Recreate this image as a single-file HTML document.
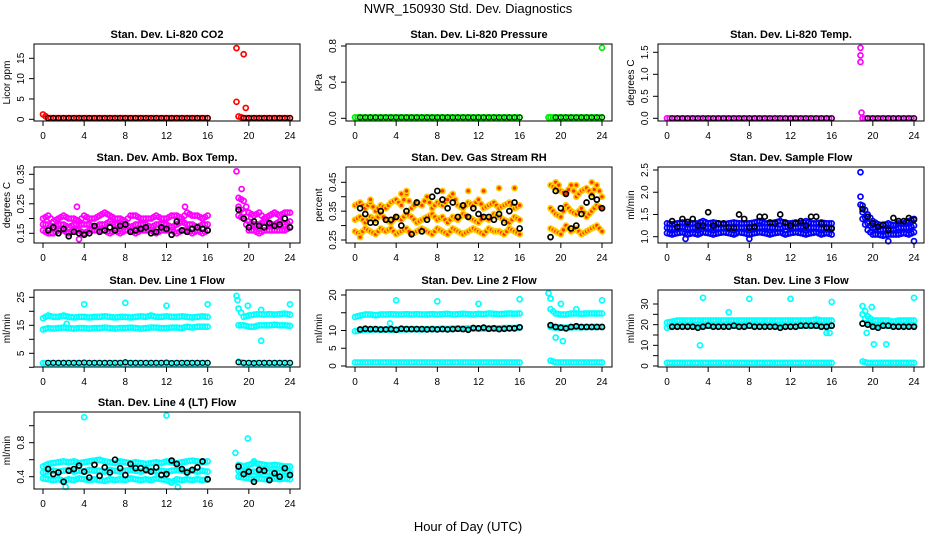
<!DOCTYPE html>
<html><head><meta charset="utf-8"><style>
body{margin:0;background:#fff}
svg{display:block;font-family:"Liberation Sans",Arial,sans-serif}
</style></head><body>
<svg id="c" width="936" height="540" viewBox="0 0 936 540">
<text x="468" y="13" text-anchor="middle" font-size="13">NWR_150930  Std. Dev. Diagnostics</text>
<text x="468" y="531" text-anchor="middle" font-size="13">Hour of Day (UTC)</text>
</svg>
<script>
const tc=[0,0.5,1,1.5,2,2.5,3,3.5,4,4.5,5,5.5,6,6.5,7,7.5,8,8.5,9,9.5,10,10.5,11,11.5,12,12.5,13,13.5,14,14.5,15,15.5,16,19,19.5,20,20.5,21,21.5,22,22.5,23,23.5,24];
const xTicks=[0,4,8,12,16,20,24];

const co2Red=[1.2,0.3,0.3,0.3,0.3,0.3,0.3,0.3,0.3,0.3,0.3,0.3,0.3,0.3,0.3,0.3,0.3,0.3,0.3,0.3,0.3,0.3,0.3,0.3,0.3,0.3,0.3,0.3,0.3,0.3,0.3,0.3,0.3,0.7,0.3,0.3,0.3,0.3,0.3,0.3,0.3,0.3,0.3,0.3];
const co2Black=[null,0.3,0.3,0.3,0.3,0.3,0.3,0.3,0.3,0.3,0.3,0.3,0.3,0.3,0.3,0.3,0.3,0.3,0.3,0.3,0.3,0.3,0.3,0.3,0.3,0.3,0.3,0.3,0.3,0.3,0.3,0.3,0.3,null,0.3,0.3,0.3,0.3,0.3,0.3,0.3,0.3,0.3,0.3];
const co2OutT=[18.8,19.5,18.8,19.7];
const co2OutV=[17.5,16,4.3,2.8];

const presGreen=[0.01,0.01,0.01,0.01,0.01,0.01,0.01,0.01,0.01,0.01,0.01,0.01,0.01,0.01,0.01,0.01,0.01,0.01,0.01,0.01,0.01,0.01,0.01,0.01,0.01,0.01,0.01,0.01,0.01,0.01,0.01,0.01,0.01,0.01,0.01,0.01,0.01,0.01,0.01,0.01,0.01,0.01,0.01,0.01];
const presOutT=[24,18.8];
const presOutV=[0.78,0.01];

const tempMag=[0,0,0,0,0,0,0,0,0,0,0,0,0,0,0,0,0,0,0,0,0,0,0,0,0,0,0,0,0,0,0,0,0,0,0,0,0,0,0,0,0,0,0,0];
const tempBlack=[null,0,0,0,0,0,0,0,0,0,0,0,0,0,0,0,0,0,0,0,0,0,0,0,0,0,0,0,0,0,0,0,0,null,0,0,0,0,0,0,0,0,0,0];
const tempOutT=[18.8,18.8,18.8,18.9];
const tempOutV=[1.6,1.43,1.28,0.13];

const ambHi=[0.2,0.21,0.19,0.2,0.21,0.2,0.2,0.19,0.21,0.2,0.2,0.21,0.22,0.21,0.2,0.2,0.19,0.21,0.21,0.2,0.2,0.2,0.21,0.2,0.2,0.21,0.21,0.2,0.22,0.21,0.21,0.2,0.21,0.27,0.26,0.22,0.21,0.22,0.2,0.21,0.22,0.21,0.22,0.22];
const ambMid=[0.18,0.18,0.17,0.18,0.18,0.17,0.18,0.18,0.18,0.18,0.17,0.18,0.18,0.19,0.18,0.18,0.18,0.17,0.18,0.18,0.18,0.17,0.18,0.18,0.18,0.17,0.18,0.19,0.18,0.18,0.17,0.18,0.18,0.24,0.22,0.19,0.18,0.18,0.19,0.18,0.18,0.19,0.18,0.19];
const ambLo=[0.16,0.15,0.15,0.16,0.16,0.15,0.16,0.16,0.15,0.16,0.16,0.16,0.16,0.15,0.16,0.15,0.16,0.16,0.15,0.16,0.16,0.16,0.15,0.16,0.16,0.16,0.15,0.16,0.16,0.15,0.16,0.15,0.16,0.21,0.2,0.16,0.16,0.15,0.16,0.16,0.16,0.16,0.16,0.17];
const ambBlack=[null,0.16,0.17,0.15,0.165,0.14,0.155,0.15,0.145,0.15,0.175,0.155,0.16,0.17,0.16,0.175,0.18,0.155,0.16,0.165,0.17,0.15,0.155,0.17,0.165,0.145,0.19,0.16,0.155,0.165,0.17,0.165,0.16,0.23,0.2,0.17,0.19,0.175,0.17,0.185,0.175,0.18,0.2,0.17];
const ambOutT=[18.8,3.5,3.3,19.3,13.8];
const ambOutV=[0.36,0.13,0.24,0.3,0.24];

const rhHi=[0.37,0.38,0.36,0.38,0.35,0.37,0.36,0.38,0.39,0.37,0.41,0.36,0.38,0.37,0.40,0.36,0.38,0.37,0.39,0.41,0.37,0.36,0.38,0.37,0.39,0.36,0.37,0.38,0.36,0.37,0.38,0.36,0.37,0.44,0.43,0.42,0.41,0.44,0.40,0.42,0.43,0.41,0.44,0.40];
const rhMid=[0.32,0.33,0.31,0.33,0.32,0.34,0.32,0.31,0.33,0.32,0.34,0.33,0.31,0.32,0.33,0.34,0.32,0.33,0.31,0.33,0.32,0.34,0.33,0.32,0.31,0.33,0.32,0.34,0.33,0.32,0.31,0.33,0.32,0.36,0.34,0.33,0.37,0.35,0.34,0.36,0.33,0.35,0.37,0.36];
const rhLo=[0.28,0.27,0.29,0.28,0.27,0.29,0.28,0.29,0.27,0.28,0.29,0.27,0.28,0.29,0.28,0.27,0.29,0.28,0.27,0.29,0.28,0.27,0.28,0.29,0.28,0.27,0.29,0.28,0.28,0.27,0.29,0.28,0.27,0.29,0.28,0.27,0.30,0.28,0.29,0.27,0.28,0.29,0.30,0.28];
const rhBlack=[null,0.36,0.34,0.31,0.31,0.35,0.32,0.32,0.33,0.30,0.35,0.27,0.38,0.28,0.32,0.40,0.42,0.39,0.36,0.38,0.33,0.37,0.33,0.36,0.34,0.33,0.33,0.32,0.34,0.31,0.35,0.38,0.29,0.26,0.42,0.36,0.41,0.29,0.30,0.34,0.38,0.40,0.39,0.36];
const rhOutT=[0.5,1.5,4.5,5,8.5,9,11,12.5,14,19.5,19.8,21.5,23,15.5];
const rhOutV=[0.26,0.39,0.41,0.42,0.42,0.39,0.42,0.42,0.43,0.45,0.44,0.44,0.45,0.43];

const flowHi=[1.3,1.28,1.3,1.32,1.28,1.3,1.3,1.35,1.3,1.32,1.3,1.28,1.3,1.32,1.3,1.3,1.3,1.32,1.35,1.3,1.3,1.32,1.35,1.3,1.3,1.32,1.3,1.35,1.3,1.3,1.32,1.3,1.3,1.7,1.5,1.35,1.28,1.25,1.3,1.25,1.3,1.3,1.35,1.4];
const flowMid=[1.2,1.18,1.2,1.22,1.18,1.2,1.2,1.22,1.2,1.2,1.18,1.2,1.22,1.2,1.2,1.2,1.22,1.2,1.2,1.22,1.2,1.2,1.18,1.22,1.2,1.2,1.22,1.2,1.2,1.2,1.18,1.2,1.2,1.55,1.3,1.2,1.15,1.15,1.18,1.15,1.2,1.2,1.2,1.25];
const flowLo=[1.08,1.05,1.08,1.1,1.05,1.08,1.05,1.1,1.08,1.05,1.08,1.1,1.08,1.05,1.1,1.08,1.05,1.08,1.1,1.08,1.05,1.08,1.1,1.05,1.08,1.1,1.08,1.05,1.08,1.1,1.05,1.08,1.05,1.4,1.15,1.05,1.05,1.02,1.05,1.05,1.05,1.08,1.05,1.1];
const flowBlack=[null,1.35,1.22,1.4,1.33,1.4,1.25,1.25,1.55,1.25,1.3,1.3,1.2,1.2,1.5,1.4,1.2,1.22,1.45,1.45,1.32,1.3,1.5,1.32,1.25,1.3,1.35,1.25,1.45,1.45,1.3,1.2,1.18,1.62,1.45,1.3,1.22,1.27,1.15,1.42,1.35,1.35,1.42,1.38];
const flowOutT=[18.8,18.8,18.8,24,21.5,8,1.8];
const flowOutV=[2.45,1.9,1.72,0.9,0.9,0.95,0.95];

const l1Hi=[17.5,18.5,18,18,18.5,18,17.8,18,18,17.8,18,18,18.2,18,17.8,18,18,17.8,18,18.2,18,18.5,18,18,18.2,18,18,18.2,18,17.8,18,18.2,18,21,18,18.5,18.8,19,18.8,19,18.8,19,19.2,18.8];
const l1Mid=[13.5,14,13.8,14,14.2,14,13.8,14,14,13.8,14,14,14.2,14,13.8,14,14,14.2,14,13.8,14,14.2,14.2,14,14,14.2,14.2,14,14.5,14.2,14.5,14.5,14.5,15,15,14.5,14.5,15,15,15,15.2,15,15,14.8];
const l1Lo=[1.5,1.5,1.5,1.5,1.5,1.5,1.5,1.5,1.5,1.5,1.5,1.5,1.5,1.5,1.5,1.5,1.5,1.5,1.5,1.5,1.5,1.5,1.5,1.5,1.5,1.5,1.5,1.5,1.5,1.5,1.5,1.5,1.5,2.0,1.5,1.5,1.5,1.5,1.5,1.5,1.5,1.5,1.5,1.5];
const l1Black=[null,1.6,1.6,1.6,1.6,1.6,1.6,1.6,1.7,1.6,1.6,1.6,1.6,1.6,1.6,1.6,1.8,1.6,1.6,1.6,1.6,1.6,1.6,1.6,1.7,1.5,1.6,1.6,1.6,1.6,1.6,1.6,1.6,1.8,1.6,1.6,1.5,1.6,1.6,1.6,1.6,1.6,1.6,1.6];
const l1OutT=[4,8,12,16,24,19.9,18.8,18.9,21.2,21.2,2.3];
const l1OutV=[22.5,23,22,22.5,22.5,22,25.5,24,9.5,20.5,15.5];

const l2Hi=[13.8,14.2,14.5,14.5,14.3,14.5,14.5,14.6,14.5,14.5,14.6,14.5,14.6,14.5,14.5,14.6,14.5,14.6,14.7,14.5,14.6,14.7,14.6,14.5,14.7,14.6,14.8,14.7,14.6,14.7,14.8,14.7,14.8,16,14.8,14.5,14.5,14.8,14.8,14.7,14.8,14.8,14.8,14.8];
const l2Mid=[9.8,10,10.2,10.2,10.3,10.2,10.3,10.2,10.2,10.3,10.3,10.4,10.3,10.3,10.4,10.4,10.4,10.5,10.4,10.5,10.5,10.5,10.6,10.5,10.6,10.5,10.6,10.6,10.6,10.7,10.7,10.7,10.8,11,10.8,10.8,10.8,10.9,10.9,10.9,11,11,11,11];
const l2Lo=[1,1,1,1,1,1,1,1,1,1,1,1,1,1,1,1,1,1,1,1,1,1,1,1,1,1,1,1,1,1,1,1,1,1.5,1,1,1,1,1,1,1,1,1,1];
const l2Black=[null,10.3,10.5,10.4,10.4,10.3,10.3,10.4,10.2,10.5,10.4,10.4,10.4,10.4,10.3,10.4,10.3,10.4,10.3,10.4,10.5,10.4,10.2,10.7,10.6,10.8,10.5,10.6,10.4,10.5,10.6,10.6,10.9,11.5,11,10.8,10.6,11,11.2,11,11,11,11,11];
const l2OutT=[4,8,12,16,24,3.4,18.8,19,20,21.5,19.5,20.2];
const l2OutV=[18.5,18.2,17.5,18.8,18.5,12,20.5,19,17.5,16,8,7];

const l3Hi=[21,21.5,22,22,22,22,22,22,22,22,22,22,22,22,22,22,22,22,22,22,22,22,22,22,22,22,22,22,22,22.5,22,22,22,29,24,22,22,22,22,21.5,22,22,22,22];
const l3Mid=[18.5,19.5,19.5,19.5,19.5,19.5,19.5,19.5,19.5,19.5,19.5,19.5,19.5,19.5,19.5,19.5,19.5,19.5,19.5,19.5,19.5,19.5,19.5,19.5,19.5,19.5,19.5,19.5,19.5,19.5,19.5,19.5,19.5,25,21,19.5,19.5,19.5,19.5,19.5,19.5,19.5,19.5,19.5];
const l3Lo=[1.5,1.5,1.5,1.5,1.5,1.5,1.5,1.5,1.5,1.5,1.5,1.5,1.5,1.5,1.5,1.5,1.5,1.5,1.5,1.5,1.5,1.5,1.5,1.5,1.5,1.5,1.5,1.5,1.5,1.5,1.5,1.5,1.5,2.2,1.5,1.5,1.5,1.5,1.5,1.5,1.5,1.5,1.5,1.5];
const l3Black=[null,19,19,19,19,19,18.5,19,19.5,19,19,19,19,19.5,19,19,19.5,19,19,19,19,19,18.5,19,19,19,19.5,19.5,19.5,19.5,19,19,19.5,20.5,20,19,18.5,19.5,19.5,19,19,19,19,19];
const l3OutT=[3.5,3.2,6,8,12,16,24,19.9,20.1,21.3,19.4,15.5,15.8];
const l3OutV=[33,10,26,32.5,32.5,31,33,28.5,10.5,10.5,16,16,16];

const l4Hi=[0.52,0.55,0.56,0.57,0.58,0.57,0.58,0.56,0.57,0.58,0.59,0.6,0.58,0.57,0.56,0.58,0.57,0.56,0.57,0.56,0.55,0.56,0.57,0.56,0.58,0.57,0.56,0.57,0.58,0.59,0.58,0.57,0.58,0.54,0.52,0.54,0.56,0.55,0.54,0.53,0.54,0.53,0.52,0.52];
const l4Mid=[0.45,0.46,0.47,0.46,0.47,0.48,0.46,0.47,0.46,0.48,0.47,0.47,0.46,0.48,0.47,0.46,0.47,0.48,0.47,0.46,0.47,0.47,0.46,0.47,0.46,0.47,0.48,0.47,0.46,0.47,0.46,0.47,0.46,0.47,0.46,0.45,0.46,0.45,0.46,0.45,0.46,0.45,0.46,0.45];
const l4Lo=[0.38,0.37,0.36,0.37,0.35,0.37,0.36,0.38,0.37,0.36,0.37,0.36,0.35,0.37,0.36,0.37,0.36,0.38,0.37,0.36,0.37,0.36,0.38,0.37,0.36,0.33,0.37,0.36,0.37,0.36,0.37,0.36,0.37,0.4,0.39,0.38,0.37,0.38,0.37,0.37,0.38,0.37,0.38,0.37];
const l4Black=[null,0.49,0.43,0.45,0.34,0.47,0.49,0.53,0.46,0.39,0.54,0.41,0.51,0.45,0.6,0.5,0.42,0.55,0.5,0.5,0.48,0.46,0.51,0.42,0.43,0.59,0.55,0.49,0.45,0.48,0.51,0.58,0.37,0.52,0.43,0.46,0.34,0.48,0.47,0.36,0.44,0.4,0.5,0.42];
const l4OutT=[4,12,18.7,19.9,20.5,2.2,13.1];
const l4OutV=[1.1,1.12,0.68,0.85,0.58,0.28,0.28];

const svg=document.getElementById('c');
const NS='http://www.w3.org/2000/svg';
function mk(tag,attrs,parent){const e=document.createElementNS(NS,tag);for(const k in attrs)e.setAttribute(k,attrs[k]);(parent||svg).appendChild(e);return e;}

const colL=[34,346,658], W=266;
const rowT=[44,167,290,412], rowB=[121,243,367,489];

function panel(key,col,row,title,ylab,cal,yTicks,yLabels,series){
  const L=colL[col], T=rowT[row], B=rowB[row];
  const g=mk('g',{});
  
  
  const xs=t=>L+9+t*(247/24);
  const ys=v=>cal[1]+(v-cal[0])*(cal[3]-cal[1])/(cal[2]-cal[0]);
  const tt=mk('text',{x:L+W/2,y:T-6,'text-anchor':'middle','font-size':'11','font-weight':'bold'},g);
  tt.textContent=title;
  
  
  const pts=mk('g',{},g);
  
  
  function dot(x,y,s){
    const c=mk('circle',{cx:x,cy:y,r:2.5,fill:s.fill||'none',stroke:s.color,'stroke-width':s.sw||1.7},pts);
    
    
  }
  series.forEach(s=>{
    const n=Math.min(s.t.length,s.v.length);
    for(let i=0;i<n;i++){
      if(s.v[i]==null)continue;
      const y=ys(s.v[i]); if(y<T-3||y>B+3)continue;
      dot(xs(s.t[i]),y,s);
      if(s.dense && i+1<n && s.v[i+1]!=null && s.t[i+1]-s.t[i]<=0.5){
        // fill between consecutive samples to form the dense cloud
        dot(xs((s.t[i]+s.t[i+1])/2),ys((s.v[i]+s.v[i+1])/2),s);
      }
    }
  });
  const box=mk('rect',{x:L,y:T,width:W,height:B-T,fill:'none',stroke:'#000','stroke-width':1},g);
  
  
  const xa=mk('g',{},g);
  
  
  mk('line',{x1:xs(xTicks[0]),x2:xs(xTicks[xTicks.length-1]),y1:B,y2:B,stroke:'#000'},xa);
  xTicks.forEach(t=>{
    mk('line',{x1:xs(t),x2:xs(t),y1:B,y2:B+5,stroke:'#000'},xa);
    const tx=mk('text',{x:xs(t),y:B+18,'text-anchor':'middle','font-size':'10'},xa);
    tx.textContent=t;
  });
  const ya=mk('g',{},g);
  
  
  mk('line',{x1:L,x2:L,y1:ys(yTicks[0]),y2:ys(yTicks[yTicks.length-1]),stroke:'#000'},ya);
  yTicks.forEach((v,i)=>{
    mk('line',{x1:L-5,x2:L,y1:ys(v),y2:ys(v),stroke:'#000'},ya);
    if(yLabels[i]!==''){
      const tx=mk('text',{x:L-10,y:ys(v),'text-anchor':'middle','font-size':'10',transform:`rotate(-90 ${L-10} ${ys(v)})`},ya);
      tx.textContent=yLabels[i];
    }
  });
  const yl=mk('text',{x:L-24,y:(T+B)/2,'text-anchor':'middle','font-size':'10',transform:`rotate(-90 ${L-24} ${(T+B)/2})`},g);
  yl.textContent=ylab;
  
  
}

const BK='#000';
const CY='#00ffff';
panel('co2',0,0,'Stan. Dev. Li-820 CO2','Licor ppm',[0,119.3,15,58.3],[0,5,10,15],['0','5','10','15'],[
 {t:tc,v:co2Red,color:'#ff0000',dense:true},{t:co2OutT,v:co2OutV,color:'#ff0000'},{t:tc,v:co2Black,color:BK,sw:1.2}]);
panel('pressure',1,0,'Stan. Dev. Li-820 Pressure','kPa',[0,118.3,0.8,46],[0,0.4,0.8],['0.0','0.4','0.8'],[
 {t:tc,v:presGreen,color:'#00ee00',dense:true},{t:presOutT,v:presOutV,color:'#00ee00'},{t:tc,v:co2Black.map(v=>v==null?null:0.01),color:BK,sw:1}]);
panel('li820-temp',2,0,'Stan. Dev. Li-820 Temp.','degrees C',[0,118.3,1.5,52.3],[0,0.5,1,1.5],['0.0','0.5','1.0','1.5'],[
 {t:tc,v:tempMag,color:'#ff00ff',dense:true},{t:tempOutT,v:tempOutV,color:'#ff00ff'},{t:tc,v:tempBlack,color:BK,sw:1.2}]);
panel('amb-box-temp',0,1,'Stan. Dev. Amb. Box Temp.','degrees C',[0.15,233.3,0.35,174.3],[0.15,0.2,0.25,0.3,0.35],['0.15','','0.25','','0.35'],[
 {t:tc,v:ambHi,color:'#ff00ff',dense:true},{t:tc,v:ambMid,color:'#ff00ff',dense:true},{t:tc,v:ambLo,color:'#ff00ff',dense:true},{t:ambOutT,v:ambOutV,color:'#ff00ff'},{t:tc,v:ambBlack,color:BK}]);
panel('gas-rh',1,1,'Stan. Dev. Gas Stream RH','percent',[0.25,240,0.45,182.3],[0.25,0.3,0.35,0.4,0.45],['0.25','','0.35','','0.45'],[
 {t:tc,v:rhHi,color:'#ffcc00',fill:'#ff3300',dense:true},{t:tc,v:rhMid,color:'#ffcc00',fill:'#ff3300',dense:true},{t:tc,v:rhLo,color:'#ffcc00',fill:'#ff3300',dense:true},{t:rhOutT,v:rhOutV,color:'#ffcc00',fill:'#ff3300'},{t:tc,v:rhBlack,color:BK}]);
panel('sample-flow',2,1,'Stan. Dev. Sample Flow','ml/min',[1,236.7,2.5,170],[1,1.5,2,2.5],['1.0','1.5','2.0','2.5'],[
 {t:tc,v:flowHi,color:'#0000ff',dense:true},{t:tc,v:flowMid,color:'#0000ff',dense:true},{t:tc,v:flowLo,color:'#0000ff',dense:true},{t:flowOutT,v:flowOutV,color:'#0000ff'},{t:tc,v:flowBlack,color:BK}]);
panel('line1-flow',0,2,'Stan. Dev. Line 1 Flow','ml/min',[5,353.3,25,297.3],[0,5,10,15,20,25],['','5','','15','','25'],[
 {t:tc,v:l1Hi,color:CY,dense:true},{t:tc,v:l1Mid,color:CY,dense:true},{t:tc,v:l1Lo,color:CY,dense:true},{t:l1OutT,v:l1OutV,color:CY},{t:tc,v:l1Black,color:BK,sw:1.2}]);
panel('line2-flow',1,2,'Stan. Dev. Line 2 Flow','ml/min',[0,366,20,295],[0,5,10,15,20],['0','5','10','','20'],[
 {t:tc,v:l2Hi,color:CY,dense:true},{t:tc,v:l2Mid,color:CY,dense:true},{t:tc,v:l2Lo,color:CY,dense:true},{t:l2OutT,v:l2OutV,color:CY},{t:tc,v:l2Black,color:BK}]);
panel('line3-flow',2,2,'Stan. Dev. Line 3 Flow','ml/min',[0,366,30,304],[0,5,10,15,20,25,30],['0','','10','','20','','30'],[
 {t:tc,v:l3Hi,color:CY,dense:true},{t:tc,v:l3Mid,color:CY,dense:true},{t:tc,v:l3Lo,color:CY,dense:true},{t:l3OutT,v:l3OutV,color:CY},{t:tc,v:l3Black,color:BK}]);
panel('line4-flow',0,3,'Stan. Dev. Line 4 (LT) Flow','ml/min',[0.4,476.7,0.8,442.7],[0.4,0.6,0.8,1.0],['0.4','','0.8',''],[
 {t:tc,v:l4Hi,color:CY,dense:true},{t:tc,v:l4Mid,color:CY,dense:true},{t:tc,v:l4Lo,color:CY,dense:true},{t:l4OutT,v:l4OutV,color:CY},{t:tc,v:l4Black,color:BK}]);
</script>
</body></html>
